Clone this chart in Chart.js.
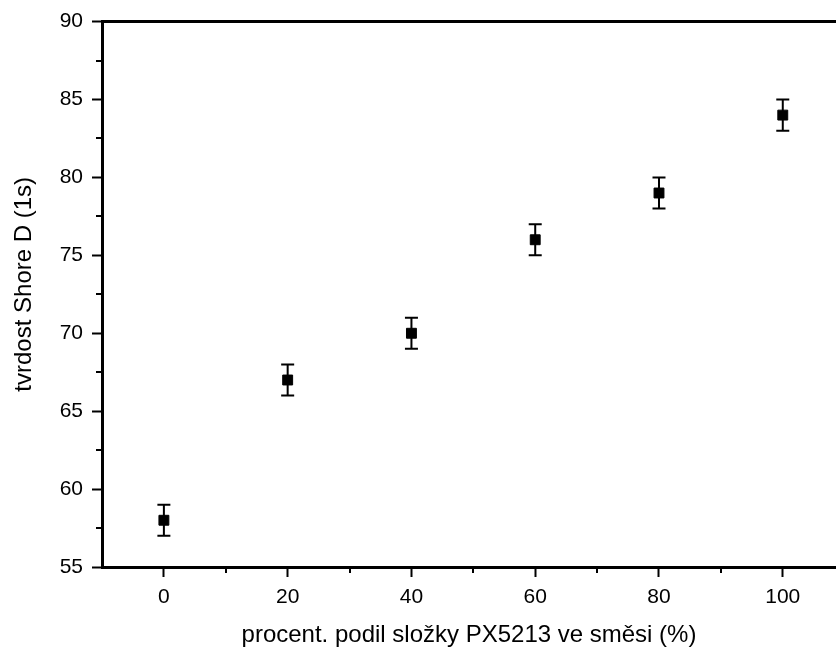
<!DOCTYPE html>
<html>
<head>
<meta charset="utf-8">
<script src="https://cdn.jsdelivr.net/npm/chart.js@4"></script>
<style>
  html, body { margin: 0; padding: 0; background: #fff; }
  #wrap { width: 836px; height: 656px; }
</style>
</head>
<body>
<div id="wrap"><canvas id="c" width="836" height="656"></canvas></div>
<script>
// ---- data ----
const podil = [0, 20, 40, 60, 80, 100];          // % PX5213
const tvrdost = [58, 67, 70, 76, 79, 84];        // Shore D (1s)
const chyba = [1, 1, 1, 1, 1, 1];                // error (±)
const xTicks = [0, 20, 40, 60, 80, 100];
const xMinorTicks = [10, 30, 50, 70, 90];
const yMinorTicks = [57.5, 62.5, 67.5, 72.5, 77.5, 82.5, 87.5];
const xTitle = 'procent. podil složky PX5213 ve směsi (%)';
const yTitle = '\u00a0\u00a0\u00a0tvrdost Shore D (1s)';

const FONT = 'Liberation Sans, Arial, Helvetica, sans-serif';

const extras = {
  id: 'extras',
  afterDatasetsDraw(chart) {
    const ctx = chart.ctx;
    const xs = chart.scales.x, ys = chart.scales.y;
    const a = chart.chartArea;
    ctx.save();
    ctx.strokeStyle = '#000';
    // top frame line
    ctx.lineWidth = 3;
    ctx.beginPath();
    ctx.moveTo(a.left, a.top);
    ctx.lineTo(a.right, a.top);
    ctx.stroke();
    // minor ticks
    ctx.lineWidth = 2;
    ctx.beginPath();
    xMinorTicks.forEach(v => {
      const px = Math.round(xs.getPixelForValue(v));
      ctx.moveTo(px, a.bottom);
      ctx.lineTo(px, a.bottom + 6);
    });
    yMinorTicks.forEach(v => {
      const py = Math.round(ys.getPixelForValue(v));
      ctx.moveTo(a.left, py);
      ctx.lineTo(a.left - 6, py);
    });
    ctx.stroke();
    // error bars
    ctx.lineWidth = 2;
    const cap = 6.5;
    podil.forEach((x, i) => {
      const px = xs.getPixelForValue(x);
      const hi = ys.getPixelForValue(tvrdost[i] + chyba[i]);
      const lo = ys.getPixelForValue(tvrdost[i] - chyba[i]);
      ctx.beginPath();
      ctx.moveTo(px, hi); ctx.lineTo(px, lo);
      ctx.moveTo(px - cap, hi); ctx.lineTo(px + cap, hi);
      ctx.moveTo(px - cap, lo); ctx.lineTo(px + cap, lo);
      ctx.stroke();
    });
    ctx.restore();
  }
};

new Chart(document.getElementById('c'), {
  type: 'scatter',
  data: {
    datasets: [{
      data: podil.map((x, i) => ({ x: x, y: tvrdost[i] })),
      pointStyle: 'rect',
      pointRadius: 7,
      backgroundColor: '#000',
      borderColor: '#000',
      borderWidth: 1
    }]
  },
  plugins: [extras],
  options: {
    responsive: false,
    animation: false,
    events: [],
    layout: { autoPadding: false, padding: { top: 20, right: 0, bottom: 0, left: 0 } },
    plugins: { legend: { display: false }, tooltip: { enabled: false } },
    scales: {
      x: {
        type: 'linear',
        min: -10,
        max: 108.6,
        afterBuildTicks: s => { s.ticks = xTicks.map(v => ({ value: v })); },
        afterFit: s => { s.height = 89; s.paddingLeft = 0; s.paddingRight = 0; },
        grid: { display: true, drawOnChartArea: false, drawTicks: true, tickLength: 10, tickWidth: 2, tickColor: '#000' },
        border: { display: true, color: '#000', width: 3 },
        ticks: { color: '#000', font: { family: FONT, size: 21 }, padding: 8, maxRotation: 0 },
        title: { display: true, text: xTitle, color: '#000', font: { family: FONT, size: 24 }, padding: { top: 0, bottom: 6 } }
      },
      y: {
        type: 'linear',
        min: 55,
        max: 90,
        ticks: { stepSize: 5, color: '#000', font: { family: FONT, size: 21 }, padding: 9 },
        afterFit: s => { s.width = 102; },
        grid: { display: true, drawOnChartArea: false, drawTicks: true, tickLength: 10, tickWidth: 2, tickColor: '#000' },
        border: { display: true, color: '#000', width: 3 },
        title: { display: true, text: yTitle, color: '#000', font: { family: FONT, size: 24 }, padding: { top: 10, bottom: 0 } }
      }
    }
  }
});
</script>
</body>
</html>
